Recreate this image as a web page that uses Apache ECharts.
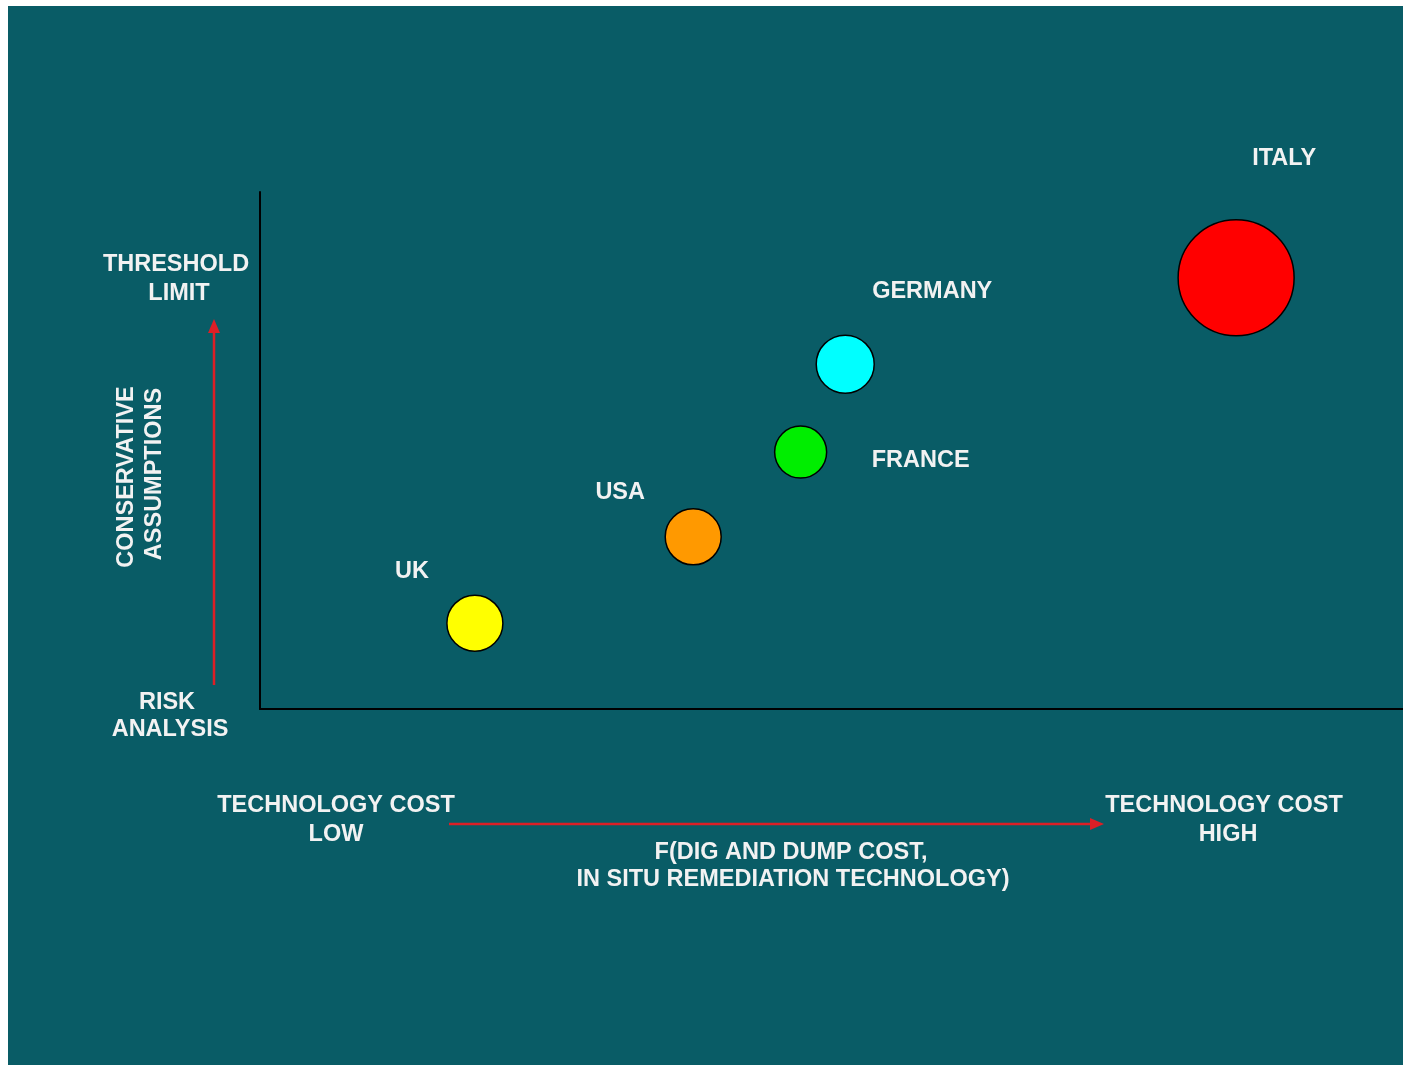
<!DOCTYPE html>
<html>
<head>
<meta charset="utf-8">
<style>
  html, body { margin: 0; padding: 0; background: #ffffff; }
  #chart { width: 1403px; height: 1065px; }
</style>
<script src="https://cdn.jsdelivr.net/npm/echarts@6/dist/echarts.min.js"></script>
</head>
<body>
<div id="chart"></div>
<script>
// Countries positioned by technology cost (x) and conservativeness of assumptions (y)
const countries = ['UK', 'USA', 'FRANCE', 'GERMANY', 'ITALY'];
const costIndex = [18.8, 37.9, 47.3, 51.2, 85.4];
const conservatism = [16.6, 33.3, 49.7, 66.7, 83.4];
const bubbleSize = [56, 56, 52, 58, 116];
const bubbleColors = ['#ffff00', '#ff9900', '#00ee00', '#00ffff', '#ff0000'];
// where each country name sits relative to its bubble
const labelOffsets = [[-63, -52], [-73, -44], [120, 8], [87, -73], [48, -119]];

const TEAL = '#095c66';
const TEXT = '#f2f2f2';
const ARROW = '#dd1f26';
const FONT = '"Liberation Sans", Arial, sans-serif';
const SIZE = 23.5;

const chart = echarts.init(document.getElementById('chart'), null, { renderer: 'canvas' });

function txt(x, y, s, extra) {
  return Object.assign({
    type: 'text', x: x, y: y, z: 10,
    style: {
      text: s, fill: TEXT, font: 'bold ' + SIZE + 'px ' + FONT,
      textAlign: 'center', textVerticalAlign: 'middle'
    }
  }, extra || {});
}

const data = countries.map((name, i) => ({
  name: name,
  value: [costIndex[i], conservatism[i], bubbleSize[i]],
  itemStyle: { color: bubbleColors[i] },
  label: { offset: labelOffsets[i] }
}));

chart.setOption({
  backgroundColor: '#ffffff',
  animation: false,
  grid: { left: 260, right: 0, top: 192, bottom: 356, containLabel: false },
  xAxis: {
    type: 'value', min: 0, max: 100,
    axisLine: { show: true, onZero: false, lineStyle: { color: '#000000', width: 2 } },
    axisTick: { show: false }, axisLabel: { show: false }, splitLine: { show: false }
  },
  yAxis: {
    type: 'value', min: 0, max: 100,
    axisLine: { show: true, onZero: false, lineStyle: { color: '#000000', width: 2 } },
    axisTick: { show: false }, axisLabel: { show: false }, splitLine: { show: false }
  },
  graphic: [
    { type: 'rect', shape: { x: 8, y: 6, width: 1395, height: 1059 }, style: { fill: TEAL }, z: -10, silent: true },
    // vertical arrow: risk analysis -> threshold limit
    { type: 'line', shape: { x1: 214, y1: 685, x2: 214, y2: 330 }, style: { stroke: ARROW, lineWidth: 2.5 }, z: 5 },
    { type: 'polygon', shape: { points: [[214, 319], [208, 333], [220, 333]] }, style: { fill: ARROW }, z: 5 },
    // horizontal arrow: low cost -> high cost
    { type: 'line', shape: { x1: 449, y1: 824, x2: 1092, y2: 824 }, style: { stroke: ARROW, lineWidth: 2.5 }, z: 5 },
    { type: 'polygon', shape: { points: [[1104, 824], [1090, 818], [1090, 830]] }, style: { fill: ARROW }, z: 5 },
    txt(176, 265, 'THRESHOLD'),
    txt(179, 294, 'LIMIT'),
    txt(167, 703, 'RISK'),
    txt(170, 730, 'ANALYSIS'),
    txt(127, 477, 'CONSERVATIVE', { rotation: Math.PI / 2 }),
    txt(155, 474, 'ASSUMPTIONS', { rotation: Math.PI / 2 }),
    txt(336, 806, 'TECHNOLOGY COST'),
    txt(336, 835, 'LOW'),
    txt(1224, 806, 'TECHNOLOGY COST'),
    txt(1228, 835, 'HIGH'),
    txt(791, 853, 'F(DIG AND DUMP COST,'),
    txt(793, 880, 'IN SITU REMEDIATION TECHNOLOGY)')
  ],
  series: [{
    type: 'scatter',
    data: data,
    symbol: 'circle',
    symbolSize: v => v[2],
    itemStyle: { borderColor: '#000000', borderWidth: 1.5, opacity: 1 },
    label: {
      show: true, position: 'inside', formatter: '{b}',
      color: TEXT, fontFamily: FONT, fontWeight: 'bold', fontSize: SIZE
    },
    emphasis: { disabled: true }
  }]
});
</script>
</body>
</html>
